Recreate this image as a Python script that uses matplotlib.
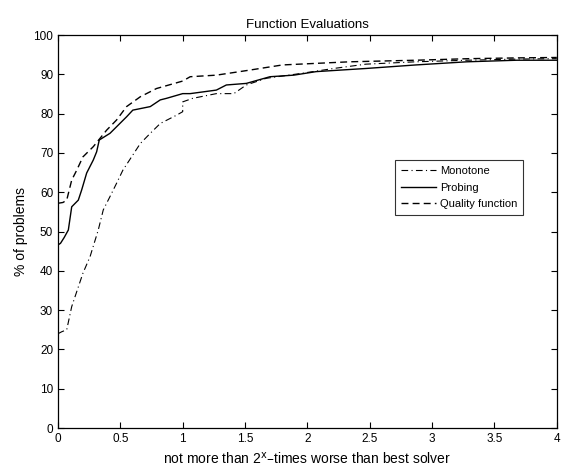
import matplotlib
matplotlib.use("Agg")
import matplotlib.pyplot as plt

plt.rcParams['font.family'] = ['Liberation Sans', 'DejaVu Sans']

mono_x = [0.0, 0.03, 0.07, 0.11, 0.2, 0.257, 0.323, 0.363, 0.417, 0.47, 0.52, 0.59, 0.66, 0.74, 0.82, 0.95, 1.0, 1.0, 1.08, 1.27, 1.41, 1.51, 1.67, 1.94, 2.21, 2.47, 2.87, 3.28, 3.7, 4.0]
mono_y = [24.0, 24.5, 25.0, 30.9, 39.4, 43.6, 50.4, 55.5, 58.9, 62.3, 65.6, 69.0, 72.4, 75.0, 77.5, 79.6, 80.5, 83.0, 83.9, 85.1, 85.1, 87.3, 89.0, 90.2, 91.5, 92.6, 93.2, 93.6, 93.9, 94.0]

prob_x = [0.0, 0.02, 0.05, 0.083, 0.11, 0.163, 0.19, 0.23, 0.283, 0.31, 0.331, 0.417, 0.55, 0.6, 0.74, 0.82, 0.87, 1.0, 1.06, 1.27, 1.35, 1.51, 1.7, 1.89, 2.07, 2.47, 2.87, 3.28, 3.68, 4.0]
prob_y = [46.6, 47.0, 48.5, 50.4, 56.3, 58.0, 60.6, 64.9, 68.2, 70.3, 73.3, 75.0, 79.2, 80.9, 81.8, 83.5, 83.9, 85.1, 85.1, 86.0, 87.3, 87.7, 89.4, 89.8, 90.7, 91.5, 92.4, 93.2, 93.6, 93.6]

qual_x = [0.0, 0.04, 0.07, 0.11, 0.15, 0.2, 0.283, 0.39, 0.47, 0.55, 0.66, 0.79, 1.0, 1.06, 1.27, 1.54, 1.8, 2.34, 2.87, 3.3, 3.7, 4.0]
qual_y = [57.2, 57.4, 58.0, 63.1, 65.6, 69.0, 71.6, 75.8, 78.4, 81.8, 84.3, 86.4, 88.3, 89.4, 89.8, 91.1, 92.4, 93.2, 93.6, 94.0, 94.2, 94.3]

fig = plt.figure(figsize=(5.63, 4.74), dpi=100)
ax = fig.add_axes([0.103, 0.097, 0.886, 0.829])

ax.plot(mono_x, mono_y, color='black', lw=0.8, linestyle=(0, (6, 3, 1, 3)), label='Monotone')
ax.plot(prob_x, prob_y, color='black', lw=1.0, linestyle='-', label='Probing')
ax.plot(qual_x, qual_y, color='black', lw=1.0, linestyle=(0, (5, 3)), label='Quality function')

ax.set_xlim(0, 4)
ax.set_ylim(0, 100)
ax.set_xticks([0, 0.5, 1, 1.5, 2, 2.5, 3, 3.5, 4])
ax.set_xticklabels(['0', '0.5', '1', '1.5', '2', '2.5', '3', '3.5', '4'])
ax.set_yticks(range(0, 101, 10))
ax.tick_params(direction='in', top=True, right=True, labelsize=8.5, length=4, width=0.8)
for s in ax.spines.values():
    s.set_linewidth(0.9)

ax.set_title('Function Evaluations', fontsize=9.5, pad=5)
ax.set_xlabel('not more than 2$^{\\mathrm{x}}$\u2013times worse than best solver', fontsize=10)
ax.set_ylabel('% of problems', fontsize=10)

leg = ax.legend(loc='upper left', bbox_to_anchor=(0.665, 0.695), fontsize=8,
                frameon=True, fancybox=False, edgecolor='black', borderpad=0.5,
                handlelength=3.2, labelspacing=0.6, handletextpad=0.3)
leg.get_frame().set_linewidth(0.8)

fig.savefig('out.png', dpi=100)
